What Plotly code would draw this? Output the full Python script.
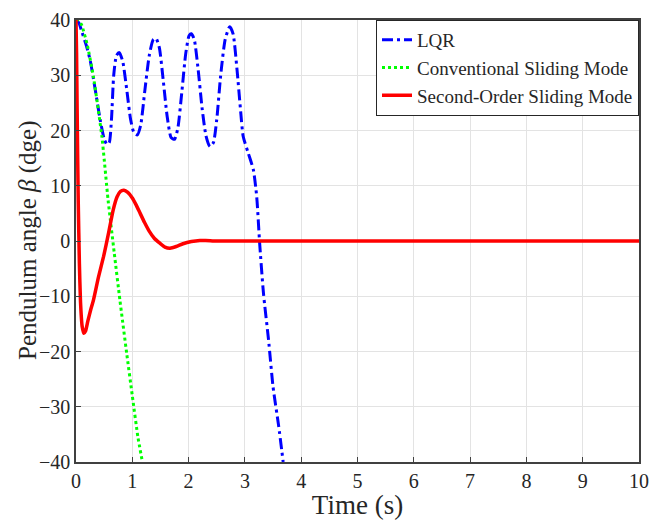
import plotly.graph_objects as go

# ---- data ----
lqr_t = [0, 0.05, 0.1, 0.18, 0.25, 0.34, 0.43, 0.5, 0.55, 0.59, 0.63, 0.67, 0.72, 0.77, 0.83, 0.9, 0.97, 1.03, 1.09,
         1.15, 1.22, 1.3, 1.37, 1.42, 1.48, 1.55, 1.62, 1.69, 1.75, 1.81, 1.88, 1.95, 2.01, 2.05, 2.1, 2.17, 2.24,
         2.31, 2.38, 2.44, 2.5, 2.57, 2.65, 2.73, 2.79, 2.86, 2.92, 2.97, 3.06, 3.15, 3.21, 3.26, 3.33, 3.42, 3.5, 3.6, 3.68]
lqr_y = [40, 39.5, 38, 35.5, 32.8, 27.5, 21.9, 18.5, 17.5, 17.8, 22, 30, 33.6, 34.1, 32.5, 27.5, 22, 19.6, 19.2,
         21, 27, 33.5, 36.4, 36.7, 35, 29, 22.5, 18.7, 18.4, 20.5, 27, 34, 37.2, 37.5, 36.5, 31, 24,
         19, 17.1, 17.8, 22, 30, 36.5, 38.8, 37.5, 31, 24, 18.9, 15.9, 12.9, 8, -0.1, -9.5, -17.9, -26.4, -33.5, -40]

csm_t = [0, 0.05, 0.1, 0.2, 0.31, 0.46, 0.57, 0.68, 0.78, 0.9, 1.0, 1.1, 1.18]
csm_y = [40, 39.9, 39.1, 35.5, 29.7, 18.9, 7.4, -2.2, -10.7, -20.3, -28.0, -35.5, -40]

sosm_t = [0, 0.01, 0.02, 0.03, 0.04, 0.06, 0.08, 0.11, 0.14, 0.17, 0.21, 0.26, 0.31, 0.4, 0.49, 0.58, 0.66, 0.73,
          0.79, 0.85, 0.92, 1.0, 1.07, 1.14, 1.22, 1.3, 1.39, 1.49, 1.58, 1.67, 1.78, 1.9, 2.05, 2.2, 2.3, 2.5, 3, 4, 5, 6, 7, 8, 9, 10]
sosm_y = [40, 34, 24, 15, 7, -4, -11, -15.5, -16.7, -16.3, -14.5, -12.5, -10.7, -6.5, -2.8, 1.5, 5.6, 8.0,
          9.0, 9.2, 8.8, 7.8, 6.5, 5.0, 3.3, 1.8, 0.5, -0.4, -1.1, -1.3, -1.0, -0.5, -0.1, 0.1, 0.1, 0.0, 0, 0, 0, 0, 0, 0, 0, 0]

x_ticks = [0, 1, 2, 3, 4, 5, 6, 7, 8, 9, 10]
y_ticks = [-40, -30, -20, -10, 0, 10, 20, 30, 40]
y_tick_text = ["\u221240", "\u221230", "\u221220", "\u221210", "0", "10", "20", "30", "40"]

series_names = ["LQR", "Conventional Sliding Mode", "Second-Order Sliding Mode"]
x_title = "Time (s)"
y_title = "Pendulum angle <i>\u03b2</i> (dge)"

FONT = "Liberation Serif"
TXT = "#262626"

fig = go.Figure()
fig.add_trace(go.Scatter(x=lqr_t, y=lqr_y, name=series_names[0], mode="lines",
                         line=dict(color="#0000ff", width=3, dash="11px,4px,3px,4px", shape="spline", smoothing=0.6)))
fig.add_trace(go.Scatter(x=csm_t, y=csm_y, name=series_names[1], mode="lines",
                         line=dict(color="#00ff00", width=3, dash="dot", shape="spline", smoothing=0.5)))
fig.add_trace(go.Scatter(x=sosm_t, y=sosm_y, name=series_names[2], mode="lines",
                         line=dict(color="#ff0000", width=3.5, shape="spline", smoothing=0.5)))

axis_common = dict(showgrid=True, gridcolor="#e3e3e3", gridwidth=1, showline=True, linecolor="#404040",
                   linewidth=1.5, mirror=True, ticks="inside", ticklen=5, tickcolor="#404040",
                   tickfont=dict(family=FONT, size=20, color=TXT), zeroline=False, automargin=False)

fig.update_layout(
    width=649, height=520,
    margin=dict(l=76, r=10, t=20, b=58),
    paper_bgcolor="white", plot_bgcolor="white",
    font=dict(family=FONT, color=TXT),
    showlegend=True,
    legend=dict(x=1, y=1, xanchor="right", yanchor="top", bgcolor="white",
                bordercolor=TXT, borderwidth=1, font=dict(family=FONT, size=19, color=TXT),
                tracegroupgap=0),
    xaxis=dict(range=[0, 10], tickvals=x_ticks, ticktext=[str(v) for v in x_ticks],
               title=dict(text=x_title, font=dict(family=FONT, size=27, color=TXT), standoff=2),
               **axis_common),
    yaxis=dict(range=[-40, 40], tickvals=y_ticks, ticktext=y_tick_text, **axis_common),
    annotations=[dict(text=y_title, xref="paper", yref="paper", x=0, y=0.5, xshift=-48,
                      xanchor="center", yanchor="middle", textangle=-90, showarrow=False,
                      font=dict(family=FONT, size=25, color=TXT))],
)

fig.write_html("out.html")
